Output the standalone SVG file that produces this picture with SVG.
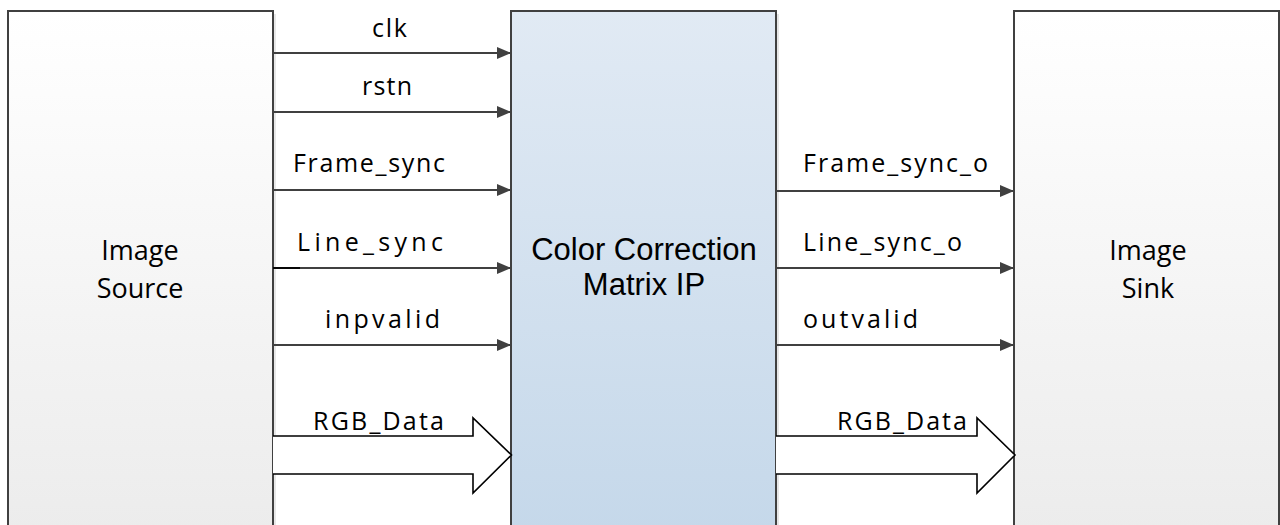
<svg xmlns="http://www.w3.org/2000/svg" width="1280" height="525" viewBox="0 0 1280 525">
  <style>
    .box { stroke: #404040; stroke-width: 2; }
    .sig { stroke: #404040; stroke-width: 1.8; fill: none; }
    .bus { stroke: #000; stroke-width: 1.6; fill: #fff; }
    .lbl { font-family: "Open Sans", "Noto Sans", sans-serif; font-size: 25px; fill: #000; }
    .nlbl { font-family: "Open Sans", "Noto Sans", sans-serif; font-size: 27px; fill: #000; text-anchor: middle; }
    .mlbl { font-family: "Liberation Sans", Arial, sans-serif; font-size: 31px; fill: #000; text-anchor: middle; }
  </style>
  <defs>
    <linearGradient id="gGray" x1="0" y1="0" x2="0" y2="1">
      <stop offset="0" stop-color="#ffffff"/>
      <stop offset="1" stop-color="#ececec"/>
    </linearGradient>
    <linearGradient id="gBlue" x1="0" y1="0" x2="0" y2="1">
      <stop offset="0" stop-color="#e1eaf4"/>
      <stop offset="1" stop-color="#c5d8ea"/>
    </linearGradient>
    <marker id="ah" markerWidth="14" markerHeight="12" refX="14" refY="6" orient="auto" markerUnits="userSpaceOnUse">
      <path d="M0,0 L14,6 L0,12 Z" fill="#404040"/>
    </marker>
  </defs>
  <rect width="1280" height="525" fill="#ffffff"/>

  <g id="image-source">
    <rect x="11" y="14" width="265" height="520" fill="#e8e8e8"/>
    <rect class="box" x="8" y="11" width="265" height="520" fill="url(#gGray)"/>
    <text class="nlbl" x="140" y="260">Image</text>
    <text class="nlbl" x="140" y="298">Source</text>
  </g>

  <g id="ccm-ip">
    <rect x="514" y="14" width="265" height="520" fill="#e6e6e6"/>
    <rect class="box" x="511" y="11" width="265" height="520" fill="url(#gBlue)"/>
    <text class="mlbl" x="644" y="260">Color Correction</text>
    <text class="mlbl" x="644" y="295">Matrix IP</text>
  </g>

  <g id="image-sink">
    <rect x="1017" y="14" width="265" height="520" fill="#e8e8e8"/>
    <rect class="box" x="1014" y="11" width="265" height="520" fill="url(#gGray)"/>
    <text class="nlbl" x="1148" y="260">Image</text>
    <text class="nlbl" x="1148" y="298">Sink</text>
  </g>

  <g id="connectors">
    <line class="sig" x1="273" y1="53" x2="511" y2="53" marker-end="url(#ah)"/>
    <line class="sig" x1="273" y1="112" x2="511" y2="112" marker-end="url(#ah)"/>
    <line class="sig" x1="273" y1="190" x2="511" y2="190" marker-end="url(#ah)"/>
    <line class="sig" x1="273" y1="268" x2="511" y2="268" marker-end="url(#ah)"/>
    <line x1="273" y1="268" x2="300" y2="268" stroke="#000" stroke-width="1.8"/>
    <line class="sig" x1="273" y1="345" x2="511" y2="345" marker-end="url(#ah)"/>
    <path class="bus" d="M273,436 H473 V418 L511.5,455 L473,493 V474 H273"/>

    <line class="sig" x1="776" y1="191" x2="1014" y2="191" marker-end="url(#ah)"/>
    <line class="sig" x1="776" y1="268" x2="1014" y2="268" marker-end="url(#ah)"/>
    <line class="sig" x1="776" y1="345" x2="1014" y2="345" marker-end="url(#ah)"/>
    <path class="bus" d="M776,436 H977 V418 L1015,455 L977,493 V474 H776"/>

    <text class="lbl" x="372" y="37" textLength="35" lengthAdjust="spacing">clk</text>
    <text class="lbl" x="362" y="95" textLength="50" lengthAdjust="spacing">rstn</text>
    <text class="lbl" x="293" y="172" textLength="152" lengthAdjust="spacing">Frame_sync</text>
    <text class="lbl" x="297" y="251" textLength="146" lengthAdjust="spacing">Line_sync</text>
    <text class="lbl" x="325" y="328" textLength="115" lengthAdjust="spacing">inpvalid</text>
    <text class="lbl" x="313" y="430" textLength="131" lengthAdjust="spacing">RGB_Data</text>

    <text class="lbl" x="803" y="172" textLength="185" lengthAdjust="spacing">Frame_sync_o</text>
    <text class="lbl" x="803" y="251" textLength="159" lengthAdjust="spacing">Line_sync_o</text>
    <text class="lbl" x="803" y="328" textLength="115" lengthAdjust="spacing">outvalid</text>
    <text class="lbl" x="837" y="430" textLength="130" lengthAdjust="spacing">RGB_Data</text>
  </g>
</svg>
